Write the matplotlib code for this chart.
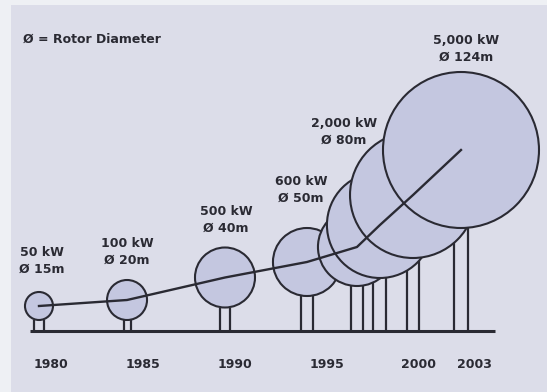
import numpy as np
import matplotlib
matplotlib.use('Agg')
from matplotlib import pyplot as plt
from matplotlib.patches import Ellipse, Rectangle

# turbine data
turbine_x = [1979.33, 1984.12, 1989.45, 1993.91, 1996.63, 1997.88, 1999.68, 2002.29]
hub_height = [25, 31, 53.5, 69, 84, 106, 136, 181]     # chart units above ground line
rotor_r = [14, 20, 30, 34, 39, 53, 63, 78]             # drawn rotor radius, chart units
power = ['50 kW', '100 kW', '500 kW', '600 kW', '', '', '2,000 kW', '5,000 kW']
diameter = ['Ø 15m', 'Ø 20m', 'Ø 40m', 'Ø 50m', '', '', 'Ø 80m', 'Ø 124m']
year_ticks = [1980, 1985, 1990, 1995, 2000, 2003]

# layout / style
PX_PER_YEAR = 18.38
leg_gap = [10, 7, 10, 12, 12, 13, 12, 14]
label_off = [(3, 45), (0, 48), (1, 57.5), (-6, 72), (0, 0), (0, 0), (-69, 63), (5, 101.5)]
bg = '#dcdde9'
fill = '#c4c7e0'
ink = '#2a2a33'
plt.rcParams['font.family'] = ['DejaVu Sans']

fig = plt.figure(figsize=(5.47, 3.92), dpi=100)
fig.patch.set_facecolor('#eef0f4')
ax = fig.add_axes([0, 0, 1, 1])
ax.set_xlim(1980 - 51.3 / PX_PER_YEAR, 1980 + (547 - 51.3) / PX_PER_YEAR)
ax.set_ylim(-61, 331)
ax.axis('off')
ax.add_patch(Rectangle((11, 0), 536, 387, transform=None, facecolor=bg,
                       edgecolor='none', zorder=0))

# towers
for x, h, r, g in zip(turbine_x, hub_height, rotor_r, leg_gap):
    dx = g / 2 / PX_PER_YEAR
    ax.vlines([x - dx, x + dx], 0, h - r, color=ink, lw=1.6, zorder=1)

# ground line
ax.hlines(0, 1980 + (30 - 51.3) / PX_PER_YEAR, 1980 + (495 - 51.3) / PX_PER_YEAR,
          color=ink, lw=2.2, zorder=1)

# rotors
for i, (x, h, r) in enumerate(zip(turbine_x, hub_height, rotor_r)):
    ax.add_patch(Ellipse((x, h), 2 * r / PX_PER_YEAR, 2 * r, facecolor=fill,
                         edgecolor=ink, lw=1.5, zorder=2 + i))

# growth line through hub centres
ax.plot(turbine_x, hub_height, color=ink, lw=1.7, zorder=20)

# labels
txt = dict(color=ink, fontweight='bold', fontsize=9)
for x, h, p, d, off in zip(turbine_x, hub_height, power, diameter, label_off):
    if not p:
        continue
    ax.annotate(p + '\n' + d, (x, h), xytext=off, textcoords='offset pixels',
                ha='center', va='center', linespacing=1.4, zorder=30, **txt)

for yr in year_ticks:
    ax.text(yr, -34, str(yr), ha='center', va='center', **txt)

ax.text(1980 + (23 - 51.3) / PX_PER_YEAR, 292, 'Ø = Rotor Diameter', ha='left',
        va='center', **txt)

plt.savefig('out.png', dpi=100, facecolor=fig.get_facecolor())
